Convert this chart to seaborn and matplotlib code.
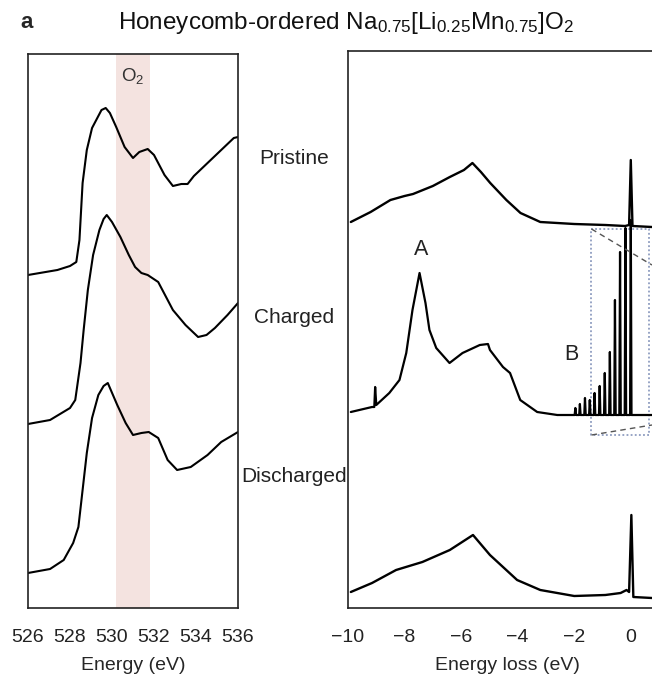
import matplotlib
matplotlib.use("Agg")
import matplotlib.pyplot as plt
import seaborn as sns
import pandas as pd

# ---------------- data ----------------
# XAS (left panel): energy (eV) and stacked intensity (a.u.)
xas_pristine_e = [526.0, 527.4, 528.0, 528.3, 528.45, 528.6, 528.8, 529.05, 529.3, 529.5, 529.7,
                  529.9, 530.2, 530.6, 531.0, 531.3, 531.7, 532.0, 532.5, 532.9, 533.3, 533.6,
                  533.9, 534.4, 534.9, 535.4, 535.8, 536.0]
xas_pristine_i = [331, 336, 340, 344, 366, 423, 456, 478, 488, 496, 498,
                  493, 479, 459, 448, 454, 457, 451, 431, 420, 422, 422,
                  430, 440, 450, 460, 468, 469]
xas_charged_e = [526.0, 527.05, 528.0, 528.25, 528.5, 528.65, 528.85, 529.1, 529.4, 529.6, 529.75,
                 530.0, 530.4, 530.8, 531.1, 531.4, 531.7, 532.2, 532.6, 532.9, 533.5, 534.1,
                 534.5, 534.9, 535.5, 536.0]
xas_charged_i = [182, 186, 198, 206, 243, 276, 316, 351, 376, 387, 391,
                 384, 369, 351, 339, 333, 331, 324, 308, 296, 281, 269,
                 271, 278, 291, 303]
xas_discharged_e = [526.0, 527.05, 527.7, 528.15, 528.4, 528.6, 528.8, 529.05, 529.35, 529.6, 529.8,
                    530.25, 530.65, 531.0, 531.4, 531.75, 532.2, 532.65, 533.1, 533.75, 534.55,
                    535.2, 536.0]
xas_discharged_i = [33, 37, 46, 63, 79, 116, 153, 188, 211, 220, 223,
                    201, 183, 171, 173, 174, 168, 146, 136, 139, 151,
                    164, 174]

# RIXS (right panel): energy loss (eV) and stacked intensity (a.u.)
rixs_pristine_e = [-9.9, -9.2, -8.5, -8.0, -7.7, -7.0, -6.4, -5.9, -5.6, -5.3, -4.97, -4.4, -3.9,
                   -3.2, -2.0, -0.9, -0.2, -0.06, 0.0, 0.06, 0.75]
rixs_pristine_i = [384, 394, 406, 410, 412, 420, 429, 436, 443, 434, 423, 406, 393,
                   384, 382, 381, 380, 381, 446, 380, 379]
rixs_charged_e = [-9.9, -9.15, -9.07, -9.04, -9.0, -8.54, -8.18, -7.94, -7.72, -7.47, -7.26, -7.12,
                  -6.88, -6.41, -5.95, -5.34, -5.05, -4.98, -4.52, -4.27, -3.91, -3.31, -2.6, -2.1]
rixs_charged_i = [194, 199, 199, 219, 201, 213, 226, 253, 296, 333, 303, 276,
                  258, 243, 253, 261, 262, 256, 239, 233, 206, 194, 191, 191]
# vibrational progression (feature B) in the charged spectrum
vib_peak_e = [-1.96, -1.80, -1.62, -1.45, -1.28, -1.10, -0.92, -0.74, -0.56, -0.38, -0.19, 0.0]
vib_peak_i = [198, 202, 208, 206, 213, 220, 233, 254, 306, 354, 378, 386]
vib_base_i = 191
rixs_charged_tail_e = [0.75]
rixs_charged_tail_i = [191]
rixs_discharged_e = [-9.9, -9.15, -8.3, -7.37, -6.4, -5.58, -4.98, -4.02, -3.2, -2.0, -0.9,
                     -0.36, -0.15, -0.06, 0.02, 0.09, 0.75]
rixs_discharged_i = [14, 23, 36, 44, 56, 71, 51, 26, 16, 10, 11,
                     13, 16, 14, 91, 9, 8]

sample_labels = ["Pristine", "Charged", "Discharged"]
xas_ticks = [526, 528, 530, 532, 534, 536]
rixs_ticks = [-10, -8, -6, -4, -2, 0]
o2_band = (530.2, 531.8)
inset_box_e = (-1.39, 0.64)
inset_box_i = (171, 377)

# ---------------- style ----------------
sns.set_style("white")
plt.rcParams['font.family'] = ['Liberation Sans', 'DejaVu Sans']
plt.rcParams['mathtext.default'] = 'regular'
plt.rcParams['axes.linewidth'] = 1.2
plt.rcParams['axes.edgecolor'] = '#222222'

fig = plt.figure(figsize=(6.52, 6.84), dpi=100)
axL = fig.add_axes([28/652, 1-608/684, 210/652, 554/684])
axR = fig.add_axes([348/652, 1-608/684, 304/652, 557/684])

def draw(ax, xs, ys, lw):
    df = pd.DataFrame({"x": xs, "y": ys})
    sns.lineplot(data=df, x="x", y="y", ax=ax, color="black", lw=lw,
                 sort=False, estimator=None)

# Left panel
axL.axvspan(*o2_band, color="#f4e3e0", zorder=0, lw=0)
draw(axL, xas_pristine_e, xas_pristine_i, 1.5)
draw(axL, xas_charged_e, xas_charged_i, 1.5)
draw(axL, xas_discharged_e, xas_discharged_i, 1.5)
axL.set_xlim(526, 536)
axL.set_ylim(-2, 552)
axL.set_xticks(xas_ticks)
axL.set_yticks([])
axL.set_xlabel("Energy (eV)", fontsize=14)
axL.xaxis.set_label_coords(0.5, -0.088)
axL.set_ylabel("")
axL.text(sum(o2_band)/2, 530, r"O$_2$", ha="center", va="center", fontsize=13.5, color="#333333")

# Right panel
draw(axR, rixs_pristine_e, rixs_pristine_i, 1.7)
ch_e = list(rixs_charged_e)
ch_i = list(rixs_charged_i)
for pe, pi in zip(vib_peak_e, vib_peak_i):
    ch_e += [pe - 0.025, pe, pe + 0.025]
    ch_i += [vib_base_i, pi, vib_base_i]
ch_e += rixs_charged_tail_e
ch_i += rixs_charged_tail_i
draw(axR, ch_e, ch_i, 1.6)
draw(axR, rixs_discharged_e, rixs_discharged_i, 1.7)
axR.set_xlim(-10, 0.75)
axR.set_ylim(-2, 555)
axR.set_xticks(rixs_ticks)
axR.set_yticks([])
axR.set_xlabel("Energy loss (eV)", fontsize=14)
axR.xaxis.set_label_coords(0.523, -0.088)
axR.set_ylabel("")
axR.spines['right'].set_visible(False)
axR.text(-7.4, 356, "A", ha="center", va="center", fontsize=15.5, color="#222222")
axR.text(-2.1, 251, "B", ha="center", va="center", fontsize=15.5, color="#222222")

# inset indicator (dotted box + dashed guide lines)
e0, e1 = inset_box_e
i0, i1 = inset_box_i
axR.plot([e0, e1, e1, e0, e0], [i1, i1, i0, i0, i1],
         ls=(0, (1.2, 1.5)), color="#7b8cb5", lw=1.1, zorder=1)
axR.plot([e0, 0.75], [i1, 341], ls=(0, (4, 3)), color="#555555", lw=1.0)
axR.plot([e0, 0.75], [i0, 181], ls=(0, (4, 3)), color="#555555", lw=1.0)

for ax in (axL, axR):
    ax.tick_params(axis='x', direction='out', length=7, width=1.2, labelsize=14,
                   pad=8, colors="#222222")
    for s in ax.spines.values():
        s.set_color("#222222")

# sample labels between the panels
for lab, ypx in zip(sample_labels, [158, 317, 476]):
    fig.text(294/652, 1-ypx/684, lab, ha="center", va="center", fontsize=15, color="#222222")

fig.text(20/652, 1-23/684, "a", fontsize=16, fontweight="bold", va="center", ha="left")
fig.text(118/652, 1-23/684, r"Honeycomb-ordered Na$_{0.75}$[Li$_{0.25}$Mn$_{0.75}$]O$_2$",
         fontsize=17.5, va="center", ha="left", color="#111111")

fig.savefig("out.png", dpi=100)
